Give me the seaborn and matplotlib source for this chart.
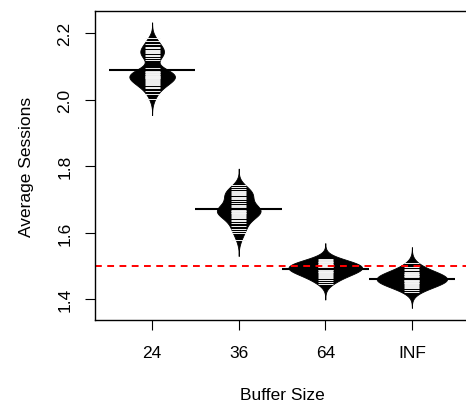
import numpy as np
import pandas as pd
import seaborn as sns
import matplotlib.pyplot as plt

buffer_sizes = ["24", "36", "64", "INF"]

sessions_24 = [2.002, 2.018, 2.027, 2.034, 2.039, 2.043, 2.047, 2.050, 2.053, 2.056,
               2.059, 2.061, 2.064, 2.066, 2.068, 2.070, 2.071, 2.072, 2.074, 2.077,
               2.079, 2.082, 2.083, 2.085, 2.088, 2.092, 2.097, 2.121, 2.127, 2.132,
               2.136, 2.140, 2.144, 2.147, 2.151, 2.155, 2.160, 2.167, 2.176, 2.185]
sessions_36 = [1.578, 1.598, 1.604, 1.612, 1.620, 1.628, 1.634, 1.639, 1.643, 1.647,
               1.651, 1.654, 1.657, 1.659, 1.661, 1.663, 1.665, 1.667, 1.669, 1.671,
               1.673, 1.675, 1.678, 1.681, 1.685, 1.690, 1.696, 1.701, 1.705, 1.709,
               1.713, 1.716, 1.719, 1.722, 1.726, 1.731, 1.737, 1.745]
sessions_64 = [1.447, 1.453, 1.458, 1.463, 1.467, 1.471, 1.474, 1.477, 1.479, 1.481,
               1.483, 1.485, 1.487, 1.488, 1.490, 1.491, 1.493, 1.494, 1.495, 1.497,
               1.498, 1.499, 1.501, 1.502, 1.504, 1.505, 1.507, 1.509, 1.511, 1.513,
               1.515, 1.517, 1.521]
sessions_inf = [1.422, 1.429, 1.434, 1.438, 1.441, 1.444, 1.446, 1.448, 1.450, 1.452,
                1.454, 1.456, 1.458, 1.459, 1.461, 1.462, 1.464, 1.465, 1.467, 1.469,
                1.471, 1.473, 1.475, 1.477, 1.480, 1.483, 1.487, 1.492, 1.498, 1.509]

reference_level = 1.5
y_ticks = [1.4, 1.6, 1.8, 2.0, 2.2]

all_sessions = [sessions_24, sessions_36, sessions_64, sessions_inf]
df = pd.DataFrame({
    "Buffer Size": np.repeat(buffer_sizes, [len(s) for s in all_sessions]),
    "Average Sessions": np.concatenate(all_sessions),
})

plt.rcParams.update({
    "font.family": ["Liberation Sans", "DejaVu Sans"],
    "font.size": 12.5,
    "axes.linewidth": 1.0,
})

fig = plt.figure(figsize=(4.66, 4.06), dpi=100)
ax = fig.add_axes([95 / 466, 85 / 406, 374 / 466, 309 / 406])

# same absolute bandwidth for every bean (like R beanplot)
bw_abs = 0.016

sns.violinplot(data=df, x="Buffer Size", y="Average Sessions", order=buffer_sizes,
               color="black", linecolor="black", linewidth=0.6, saturation=1,
               inner=None, cut=3, density_norm="area", width=0.85, gridsize=200,
               bw_method=lambda k: bw_abs / k.dataset.std(ddof=1), ax=ax)

# bean lines (one per observation) and group means
for i, vals in enumerate(all_sessions):
    ax.hlines(vals, i - 0.087, i + 0.087, color="#f4f4f4", lw=0.7, zorder=3)
    ax.hlines(np.mean(vals), i - 0.5, i + 0.5, color="black", lw=1.5, zorder=4)

ax.axhline(reference_level, color="red", lw=1.4, linestyle=(0, (3.5, 2.8)), zorder=5)

ax.set_xlim(-0.66, 3.66)
ax.set_ylim(1.3377, 2.267)
ax.set_yticks(y_ticks)
ax.set_yticklabels([f"{t:.1f}" for t in y_ticks], rotation=90, va="center")
ax.tick_params(length=7.2, width=0.8, color="black")
ax.tick_params(axis="x", pad=11)
ax.tick_params(axis="y", pad=9)

ax.set_xlabel("Buffer Size")
ax.set_ylabel("Average Sessions")
ax.xaxis.label.set_va("center")
ax.yaxis.label.set_va("center")
ax.xaxis.set_label_coords(0.5, -0.242)
ax.yaxis.set_label_coords(-0.182, 0.5)

for s in ax.spines.values():
    s.set_visible(True)
    s.set_color("black")
    s.set_zorder(10)

fig.savefig("out.png", dpi=100)
